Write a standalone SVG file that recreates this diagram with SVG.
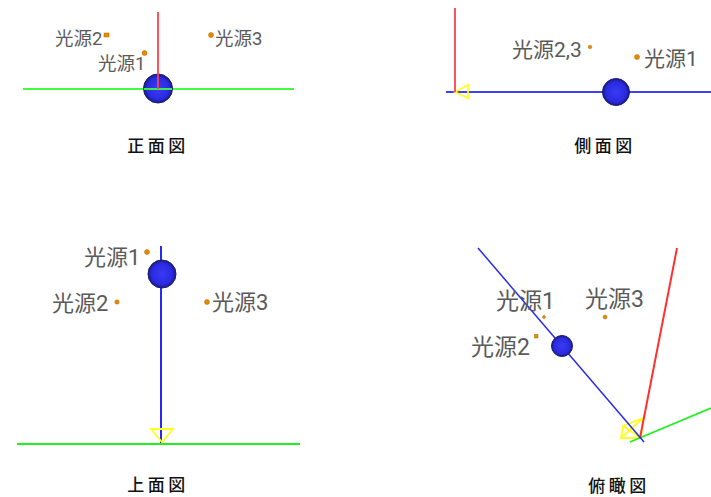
<svg xmlns="http://www.w3.org/2000/svg" width="711" height="497" viewBox="0 0 711 497">
<defs>
<radialGradient id="ball" cx="50%" cy="50%" r="50%"><stop offset="0" stop-color="#3a3af5"/><stop offset="0.75" stop-color="#2a2ae0"/><stop offset="1" stop-color="#1a1a80"/></radialGradient>
</defs>
<style>
text{font-family:Roboto,"Noto Sans CJK JP","Noto Sans",sans-serif;fill:#5a5a5a}
.f{font-size:18.500px}
.s{font-size:21px}
.t{font-size:22px}
.o{font-size:23px}
.cap{font-family:"Noto Sans CJK JP",sans-serif;font-size:17px;font-weight:500;fill:#111;text-anchor:middle;letter-spacing:3.500px}
.ball{fill:url(#ball);stroke:#1c1c70;stroke-width:1}
.lt{fill:#e68a00;stroke:#b56c00;stroke-width:.5}
.r,.g,.b,.y{fill:none}
.r{stroke:#ff4050}.g{stroke:#40ff40}.b{stroke:#2828f0}.y{stroke:#ffff20;stroke-width:1.8}
</style>
<rect width="711" height="497" fill="#fff"/>
<g id="connectors">
<path class="g" stroke-width="1.8" d="M23 89H294"/>
<path class="b" stroke-width="2" style="stroke:#4040f0" d="M446 92H711"/>
<path class="y" d="M455 92L468 85V98Z"/>
<path class="r" stroke-width="1.8" d="M455 8V92"/>
<path class="b" stroke-width="2" d="M161 246V443"/>
<path class="g" stroke-width="1.8" style="stroke:#20f020" d="M17 444H300"/>
<path class="y" d="M151 429H173L162 442Z"/>
<path class="y" d="M643 418L623 426L621 438H641ZM621 438L643 418M623 426L641 438"/>
<path class="g" stroke-width="1.8" style="stroke:#20f020" d="M630 442L711 408"/>
<path class="r" stroke-width="2" style="stroke:#ff3030" d="M677 248L640 438"/>
<path class="b" stroke-width="1.500" d="M478 248L644 442"/>
</g>
<g id="front">
<circle class="ball" cx="158" cy="88.5" r="14.5"/>
<path class="g" stroke-width="1.8" d="M144 89H172"/>
<path class="r" stroke-width="1.8" d="M158 12V89"/>
<circle class="lt" cx="144.500" cy="53" r="2.500"/><rect class="lt" x="104" y="33" width="5" height="4"/><circle class="lt" cx="211" cy="35" r="2.500"/>
<text class="f" x="55" y="45">光源2</text><text class="f" x="98" y="70">光源1</text><text class="f" x="215" y="45">光源3</text>
<text class="cap" x="158" y="152">正面図</text>
</g>
<g id="side">
<circle class="ball" cx="616" cy="92" r="13.500"/>
<circle class="lt" cx="590" cy="47" r="1.800"/><circle class="lt" cx="637" cy="57" r="2.500"/>
<text class="s" x="512" y="57">光源2,3</text><text class="s" x="644" y="66">光源1</text>
<text class="cap" x="605" y="152">側面図</text>
</g>
<g id="top">
<circle class="ball" cx="162" cy="274" r="14"/>
<circle class="lt" cx="147" cy="252" r="2.500"/><circle class="lt" cx="117" cy="302" r="2.200"/><circle class="lt" cx="207" cy="302" r="2.500"/>
<text class="t" x="84" y="265">光源1</text><text class="t" x="52" y="311">光源2</text><text class="t" x="212" y="310">光源3</text>
<text class="cap" x="158" y="491">上面図</text>
</g>
<g id="bird">
<circle class="ball" cx="562" cy="346" r="10.500"/>
<circle class="lt" cx="544" cy="317" r="1.500"/><rect class="lt" x="534.500" y="334.500" width="3.500" height="3.500"/><circle class="lt" cx="605" cy="317" r="2"/>
<text class="o" x="496" y="309">光源1</text><text class="o" x="471" y="355">光源2</text><text class="o" x="585" y="307">光源3</text>
<text class="cap" x="619" y="492">俯瞰図</text>
</g>
</svg>
